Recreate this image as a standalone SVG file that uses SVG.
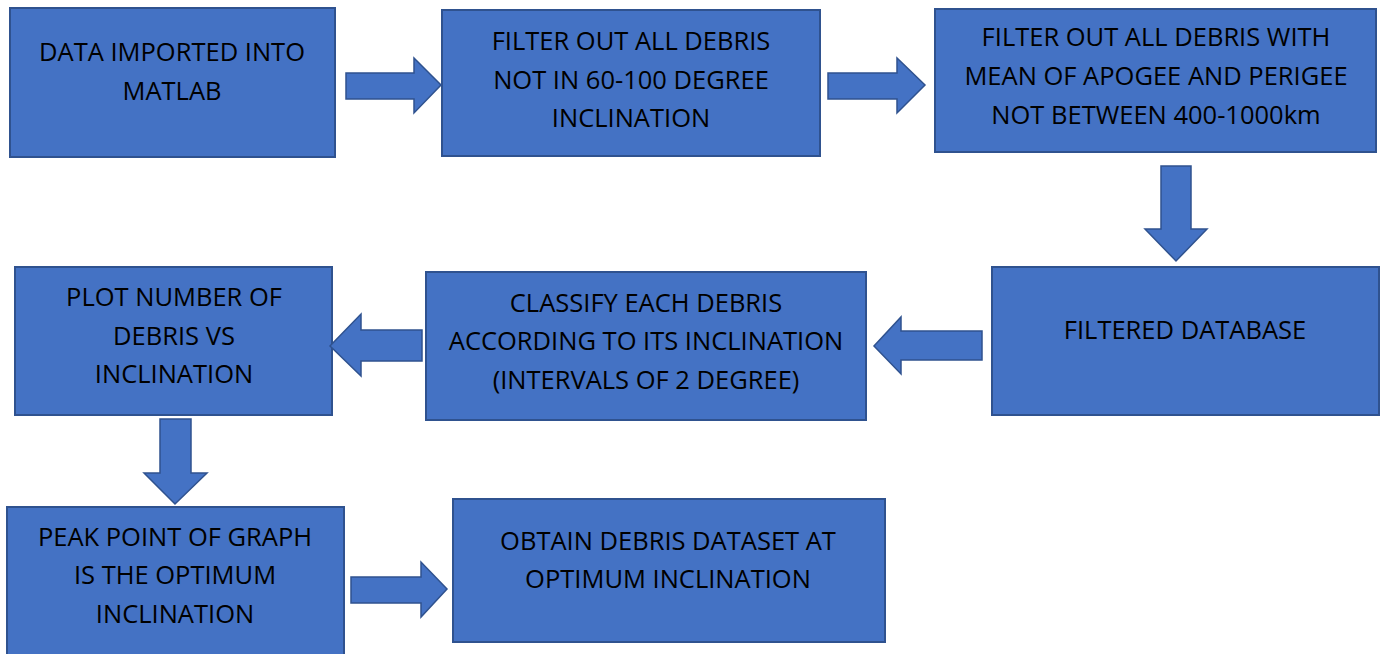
<svg xmlns="http://www.w3.org/2000/svg" width="1384" height="654" viewBox="0 0 1384 654">
<style>
.box{fill:#4472C4;stroke:#2F528F;stroke-width:2}
.arr{fill:#4472C4;stroke:#2F528F;stroke-width:1.5;stroke-linejoin:miter}
text{font-family:"Open Sans","Liberation Sans",sans-serif;font-size:25.5px;fill:#000;text-anchor:middle}
</style>
<rect width="1384" height="654" fill="#fff"/>
<g id="n1"><rect class="box" x="10" y="8" width="325" height="149"/>
<text x="172" y="61">DATA IMPORTED INTO</text><text x="172" y="100">MATLAB</text></g>
<g id="n2"><rect class="box" x="442" y="10" width="378" height="146"/>
<text x="631" y="50">FILTER OUT ALL DEBRIS</text><text x="631" y="89">NOT IN 60-100 DEGREE</text><text x="631" y="127">INCLINATION</text></g>
<g id="n3"><rect class="box" x="935" y="9" width="441" height="143"/>
<text x="1156" y="46">FILTER OUT ALL DEBRIS WITH</text><text x="1156" y="85">MEAN OF APOGEE AND PERIGEE</text><text x="1156" y="124">NOT BETWEEN 400-1000km</text></g>
<g id="n4"><rect class="box" x="992" y="267" width="387" height="148"/>
<text x="1185" y="339">FILTERED DATABASE</text></g>
<g id="n5"><rect class="box" x="426" y="272" width="440" height="148"/>
<text x="646" y="312">CLASSIFY EACH DEBRIS</text><text x="646" y="350">ACCORDING TO ITS INCLINATION</text><text x="646" y="389">(INTERVALS OF 2 DEGREE)</text></g>
<g id="n6"><rect class="box" x="15" y="267" width="317" height="148"/>
<text x="174" y="306">PLOT NUMBER OF</text><text x="174" y="345">DEBRIS VS</text><text x="174" y="383">INCLINATION</text></g>
<g id="n7"><rect class="box" x="7" y="507" width="337" height="150"/>
<text x="175" y="546">PEAK POINT OF GRAPH</text><text x="175" y="584">IS THE OPTIMUM</text><text x="175" y="623">INCLINATION</text></g>
<g id="n8"><rect class="box" x="453" y="499" width="432" height="143"/>
<text x="668" y="550">OBTAIN DEBRIS DATASET AT</text><text x="668" y="588">OPTIMUM INCLINATION</text></g>
<g id="connectors">
<polygon class="arr" points="346,73 414,73 414,58 441,85 414,113 414,99 346,99"/>
<polygon class="arr" points="828,73 897,73 897,58 925,85 897,113 897,99 828,99"/>
<polygon class="arr" points="1161,166 1191,166 1191,229 1207,229 1176,261 1145,229 1161,229"/>
<polygon class="arr" points="982,331 901,331 901,317 874,346 901,374 901,360 982,360"/>
<polygon class="arr" points="422,330 361,330 361,314 330,346 361,376 361,361 422,361"/>
<polygon class="arr" points="160,419 191,419 191,473 207,473 175,504 144,473 160,473"/>
<polygon class="arr" points="351,577 421,577 421,562 447,589 421,617 421,603 351,603"/>
</g>
</svg>
